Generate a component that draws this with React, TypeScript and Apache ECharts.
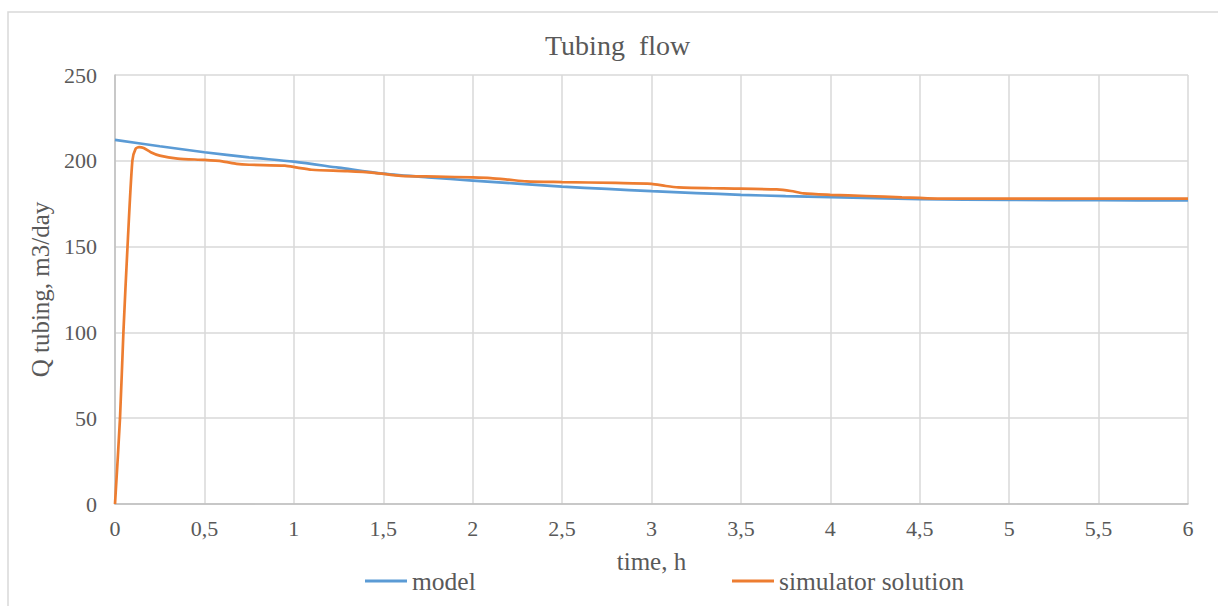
import React, { useEffect, useRef } from "react";
import * as echarts from "echarts";

const titleText = "Tubing  flow";
const xAxisName = "time, h";
const yAxisName = "Q tubing, m3/day";
const seriesNames = ["model", "simulator solution"];

const modelTime = [0, 0.25, 0.5, 0.75, 1, 1.25, 1.5, 1.75, 2, 2.25, 2.5, 2.75, 3, 3.25, 3.5, 3.75, 4, 4.25, 4.5, 5, 5.5, 6];
const modelQ = [212.2, 208.5, 205, 202, 199.5, 196, 192.5, 190.3, 188.5, 186.7, 185, 183.6, 182.3, 181.2, 180.2, 179.4, 178.8, 178.2, 177.7, 177.2, 177, 176.9];

const simTime = [0, 0.028, 0.047, 0.07, 0.097, 0.115, 0.135, 0.16, 0.2, 0.25, 0.35, 0.5, 0.6, 0.68, 0.75, 0.95, 1.02, 1.1, 1.3, 1.45, 1.6, 1.8, 2.0, 2.1, 2.2, 2.3, 2.5, 2.8, 3.0, 3.08, 3.15, 3.4, 3.7, 3.78, 3.85, 4.0, 4.2, 4.4, 4.6, 5.0, 5.5, 6.0];
const simQ = [0, 50, 100, 150, 200, 207, 208, 207.5, 205, 203, 201.3, 200.5, 199.7, 198.2, 197.7, 197.2, 196, 194.8, 194, 193, 191.2, 190.8, 190.3, 189.9, 189, 188, 187.6, 187.1, 186.6, 185.3, 184.5, 183.9, 183.3, 182.4, 181, 180.2, 179.5, 178.7, 178, 177.9, 177.9, 177.9];

const FONT = "Liberation Serif";
const TEXT = "#595959";

export default function App() {
  const ref = useRef<HTMLDivElement>(null);
  useEffect(() => {
    if (!ref.current) return;
    const chart = echarts.init(ref.current, null, { renderer: "svg" });
    const modelData = modelTime.map((t, i) => [t, modelQ[i]]);
    const simData = simTime.map((t, i) => [t, simQ[i]]);
    const nameText = { fontFamily: FONT, fontSize: 25, color: TEXT };
    const legendText = { fontFamily: FONT, fontSize: 25.5, color: TEXT };
    const tickText = { fontFamily: FONT, fontSize: 22, color: TEXT };
    const legendCommon = {
      top: 568,
      padding: 0,
      itemWidth: 42,
      itemHeight: 3,
      textStyle: legendText,
    };
    chart.setOption({
      animation: false,
      backgroundColor: "#ffffff",
      textStyle: { fontFamily: FONT },
      title: {
        text: titleText,
        left: 545,
        top: 31,
        padding: 0,
        textStyle: { fontFamily: FONT, fontSize: 28, fontWeight: "normal", color: TEXT },
      },
      graphic: [
        {
          type: "rect",
          shape: { x: 8, y: 12, width: 1230, height: 620 },
          style: { fill: "none", stroke: "#D9D9D9", lineWidth: 1.5 },
          silent: true,
        },
      ],
      legend: [
        { ...legendCommon, data: [{ name: seriesNames[0], icon: "rect" }], left: 365 },
        { ...legendCommon, data: [{ name: seriesNames[1], icon: "rect" }], left: 732 },
      ],
      grid: { left: 115, right: 30, top: 75, bottom: 102, containLabel: false },
      xAxis: {
        type: "value",
        min: 0,
        max: 6,
        interval: 0.5,
        name: xAxisName,
        nameLocation: "middle",
        nameGap: 45,
        nameTextStyle: nameText,
        axisLine: { show: true, lineStyle: { color: "#BFBFBF", width: 1.5 } },
        axisTick: { show: false },
        axisLabel: {
          ...tickText,
          margin: 13,
          formatter: (v: number) => String(v).replace(".", ","),
        },
        splitLine: { show: true, lineStyle: { color: "#D9D9D9", width: 1.5 } },
      },
      yAxis: {
        type: "value",
        min: 0,
        max: 250,
        interval: 50,
        name: yAxisName,
        nameLocation: "middle",
        nameGap: 58,
        nameTextStyle: nameText,
        axisLine: { show: true, lineStyle: { color: "#BFBFBF", width: 1.5 } },
        axisTick: { show: false },
        axisLabel: { ...tickText, margin: 18 },
        splitLine: { show: true, lineStyle: { color: "#D9D9D9", width: 1.5 } },
      },
      series: [
        {
          name: seriesNames[0],
          type: "line",
          data: modelData,
          smooth: 0.3,
          showSymbol: false,
          symbol: "none",
          lineStyle: { color: "#5B9BD5", width: 2.7 },
          itemStyle: { color: "#5B9BD5" },
        },
        {
          name: seriesNames[1],
          type: "line",
          data: simData,
          smooth: 0.25,
          showSymbol: false,
          symbol: "none",
          lineStyle: { color: "#ED7D31", width: 2.7 },
          itemStyle: { color: "#ED7D31" },
        },
      ],
    });
    return () => chart.dispose();
  }, []);
  return (
    <div
      ref={ref}
      style={{ position: "fixed", left: 0, top: 0, width: 1218, height: 606, background: "#fff" }}
    />
  );
}
